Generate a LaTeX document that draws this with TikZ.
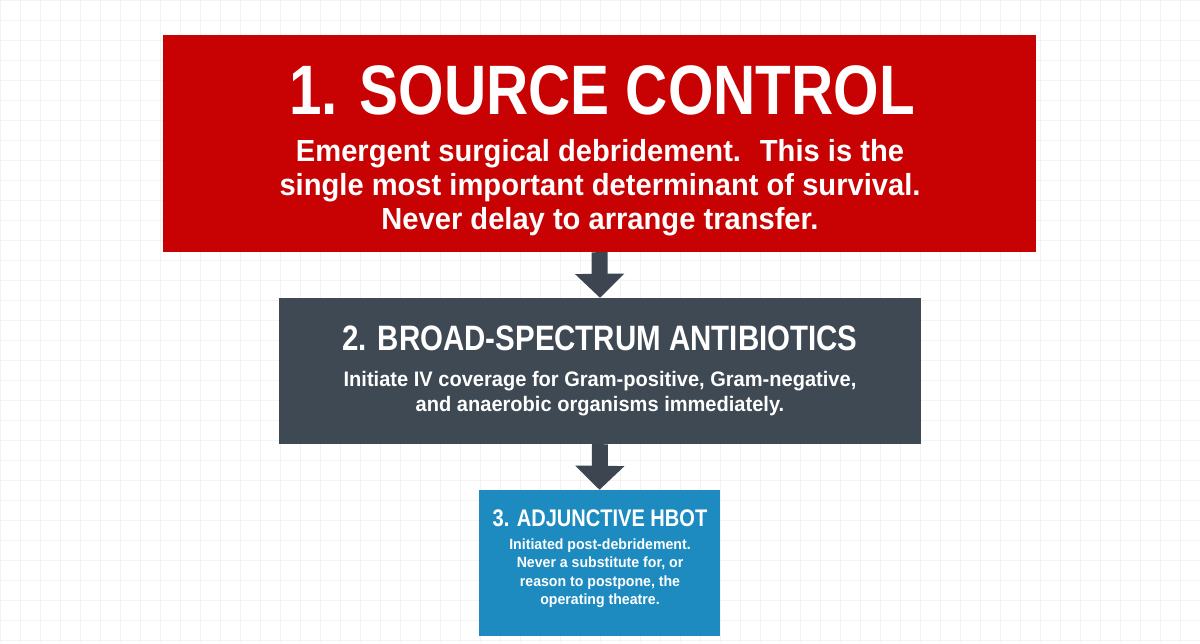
\documentclass[tikz,border=0pt]{standalone}
\usepackage{fontspec}
\usetikzlibrary{arrows.meta}
\newfontfamily\condT[FakeStretch=0.835]{Liberation Sans}
\newfontfamily\condB[FakeStretch=0.955]{Liberation Sans}
\definecolor{srcred}{HTML}{C80202}
\definecolor{abxgray}{HTML}{3E4953}
\definecolor{hbotblue}{HTML}{1D8BC0}
\definecolor{arrowgray}{HTML}{3D4650}
\definecolor{gridc}{HTML}{F3F3F3}
\tikzset{
  box/.style={draw=none, rectangle, inner sep=0pt},
  txt/.style={text=white, align=center, inner sep=0pt},
  flow/.style={arrowgray, line width=16pt, -{Triangle[width=48pt,length=24pt]}}
}
\begin{document}
\begin{tikzpicture}[x=1pt,y=-1pt]
\useasboundingbox (0,0) rectangle (1200,643);
\fill[white] (0,0) rectangle (1200,643);
\draw[gridc, line width=0.8pt, step=20pt] (0,0) grid (1200,643);

\node[box, fill=srcred, minimum width=873pt, minimum height=217pt] (red) at (599.5,143.5) {};
\node[box, fill=abxgray, minimum width=642pt, minimum height=146pt] (gray) at (600,371) {};
\node[box, fill=hbotblue, minimum width=241pt, minimum height=146pt] (blue) at (599.5,563) {};

\node[txt, font=\condT\bfseries\fontsize{70}{72}\selectfont] (t1) at (602,90) {1. SOURCE CONTROL};
\node[txt, font=\condB\bfseries\fontsize{30.5}{34}\selectfont] (b1) at (600,187.5)
  {Emergent surgical debridement.~ This is the\\single most important determinant of survival.\\Never delay to arrange transfer.};

\node[txt, font=\condT\bfseries\fontsize{35.3}{40}\selectfont] (t2) at (600,338) {2. BROAD-SPECTRUM ANTIBIOTICS};
\node[txt, font=\condB\bfseries\fontsize{21}{25}\selectfont] (b2) at (600,394)
  {Initiate IV coverage for Gram-positive, Gram-negative,\\and anaerobic organisms immediately.};

\node[txt, font=\condT\bfseries\fontsize{24}{28}\selectfont] (t3) at (600,518) {3. ADJUNCTIVE HBOT};
\node[txt, font=\condB\bfseries\fontsize{14.8}{18.5}\selectfont] (b3) at (600,573)
  {Initiated post-debridement.\\Never a substitute for, or\\reason to postpone, the\\operating theatre.};

\draw[flow] (red.south) -- (gray.north);
\draw[flow] (gray.south) -- (blue.north);
\end{tikzpicture}
\end{document}
